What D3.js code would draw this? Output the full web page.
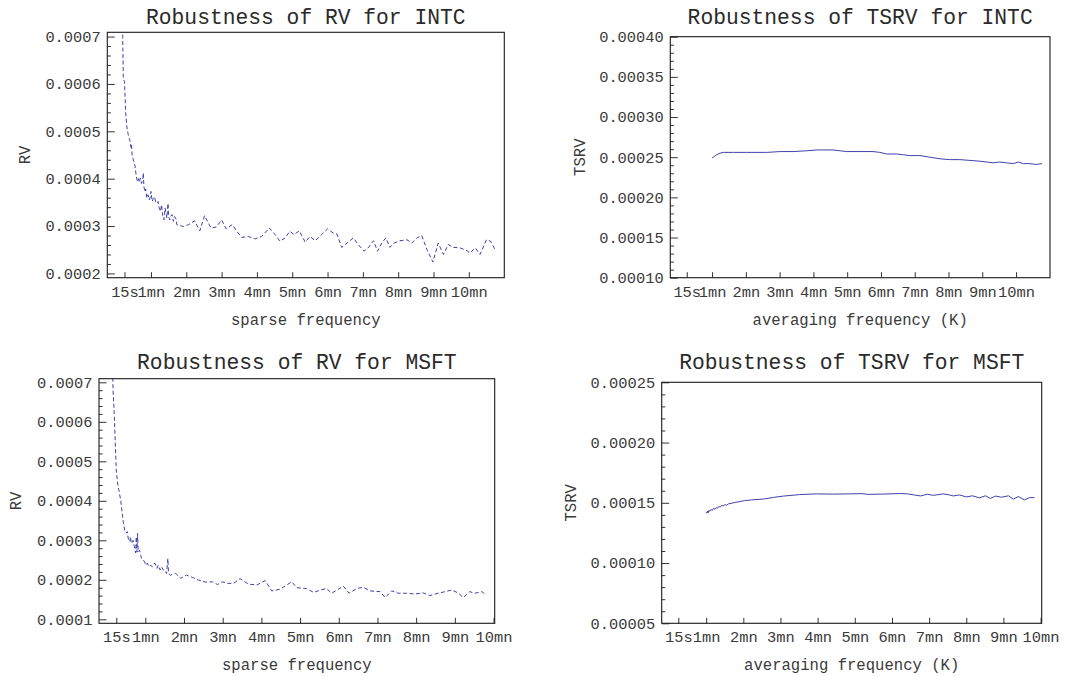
<!DOCTYPE html>
<html>
<head>
<meta charset="utf-8">
<script src="https://cdn.jsdelivr.net/npm/d3@7"></script>
<style>
  html, body { margin: 0; padding: 0; background: #fff; }
  svg { display: block; }
  text { font-family: "Liberation Mono", "Courier New", monospace; }
</style>
</head>
<body>
<svg id="chart" width="1076" height="677"></svg>
<script>
// ---------------- DATA ----------------
// x values in seconds
const xTickSec = [15, 60, 120, 180, 240, 300, 360, 420, 480, 540, 600];
const xTickLabels = ["15s", "1mn", "2mn", "3mn", "4mn", "5mn", "6mn", "7mn", "8mn", "9mn", "10mn"];

const rvTicks = [0.0002, 0.0003, 0.0004, 0.0005, 0.0006, 0.0007];
const rvTicksMsft = [0.0001, 0.0002, 0.0003, 0.0004, 0.0005, 0.0006, 0.0007];
const tsrvTicksIntc = [0.0001, 0.00015, 0.0002, 0.00025, 0.0003, 0.00035, 0.0004];
const tsrvTicksMsft = [0.00005, 0.0001, 0.00015, 0.0002, 0.00025];

// RV for INTC (sparse frequency)
const intcRvSec = [3, 7, 10, 12, 13, 15, 17, 19, 21, 23, 24, 26, 27, 28, 30, 32, 33, 35, 37, 39, 40, 42, 44, 46, 47, 48, 50, 51, 53, 55, 57, 59, 60, 62, 64, 66, 68, 70, 72, 74, 76, 78, 80, 82, 84, 86, 87, 89, 90, 92, 94, 96, 98, 100, 102, 104,
  115, 124, 134, 143, 151, 162, 171, 180, 188, 198, 206, 214, 225, 237, 248, 261, 271, 279, 288, 296, 303, 312, 322, 330, 339, 350, 360, 370, 376, 384, 393, 404, 412, 422, 429, 438, 445, 452, 459, 466, 473, 483, 495, 503, 512, 520, 529, 539, 548, 557, 565, 574, 585, 597, 602, 611, 619, 630, 637, 646];
const intcRvVal = [0.00150, 0.00098, 0.00080, 0.00070, 0.00061, 0.000605, 0.00054, 0.00051, 0.000495, 0.000485, 0.000482, 0.000466, 0.000472, 0.000448, 0.000440, 0.000432, 0.000426, 0.000405, 0.000394, 0.000400, 0.000392, 0.000401, 0.000390, 0.000398, 0.000412, 0.000383, 0.000372, 0.000378, 0.000359, 0.000366, 0.000355, 0.000362, 0.000373, 0.000352, 0.000358, 0.000362, 0.000351, 0.000348, 0.000352, 0.000338, 0.000331, 0.000345, 0.000322, 0.000313, 0.000338, 0.000324, 0.000317, 0.000348, 0.000320, 0.000313, 0.000322, 0.000324, 0.000310, 0.000320, 0.000317, 0.000303,
  0.000299, 0.000303, 0.000311, 0.000290, 0.000322, 0.000296, 0.000298, 0.000313, 0.000294, 0.000303, 0.000289, 0.000276, 0.000278, 0.000273, 0.000278, 0.000296, 0.000282, 0.000268, 0.000275, 0.000289, 0.000282, 0.000290, 0.000266, 0.000278, 0.000269, 0.000282, 0.000294, 0.000285, 0.000283, 0.000255, 0.000264, 0.000275, 0.000261, 0.000247, 0.000254, 0.000269, 0.000247, 0.000264, 0.000275, 0.000255, 0.000264, 0.000269, 0.000271, 0.000264, 0.000275, 0.000280, 0.000250, 0.000224, 0.000264, 0.000240, 0.000261, 0.000255, 0.000254, 0.000248, 0.000243, 0.000254, 0.000240, 0.000271, 0.000268, 0.000247];

// TSRV for INTC (averaging frequency K)
const intcTsrvSec = [60, 64, 68, 74, 80, 98, 121, 157, 181, 204, 228, 246, 275, 299, 323, 346, 358, 370, 388, 400, 411, 429, 447, 465, 482, 500, 518, 536, 548, 559, 571, 583, 595, 604, 613, 624, 636, 646];
const intcTsrvVal = [0.000249, 0.000251, 0.000253, 0.000255, 0.000256, 0.000256, 0.000256, 0.000256, 0.000257, 0.000257, 0.000258, 0.000259, 0.000259, 0.000257, 0.000257, 0.000257, 0.000256, 0.000254, 0.000254, 0.000253, 0.000252, 0.000252, 0.000250, 0.000248, 0.000247, 0.000247, 0.000246, 0.000245, 0.000244, 0.000243, 0.000244, 0.000243, 0.000242, 0.000244, 0.000242, 0.000242, 0.000241, 0.000242];

// RV for MSFT (sparse frequency)
const msftRvSec = [3, 7, 10, 12, 14, 15, 17, 19, 22, 24, 26, 28, 30, 32, 34, 36, 37, 38, 40, 41, 43, 45, 46, 47, 48, 49, 51, 53, 54, 57, 59, 61, 63, 66, 68, 71, 73, 75, 78, 80, 83, 85, 88, 90, 93, 95, 96, 99,
  107, 115, 124, 133, 143, 154, 164, 172, 179, 187, 197, 207, 220, 233, 246, 256, 269, 287, 295, 310, 321, 331, 341, 349, 357, 367, 376, 388, 398, 408, 424, 432, 442, 452, 465, 478, 491, 501, 514, 525, 535, 545, 553, 563, 571, 582, 589];
const msftRvVal = [0.00160, 0.00095, 0.00068, 0.000613, 0.000520, 0.000478, 0.000445, 0.000427, 0.000400, 0.000370, 0.000345, 0.000326, 0.000318, 0.000322, 0.000300, 0.000297, 0.000309, 0.000296, 0.000292, 0.000300, 0.000284, 0.000268, 0.000309, 0.000270, 0.000318, 0.000271, 0.000275, 0.000262, 0.000254, 0.000250, 0.000245, 0.000237, 0.000242, 0.000233, 0.000237, 0.000233, 0.000240, 0.000242, 0.000229, 0.000237, 0.000225, 0.000233, 0.000225, 0.000225, 0.000216, 0.000254, 0.000216, 0.000212,
  0.000216, 0.000204, 0.000212, 0.000206, 0.000199, 0.000194, 0.000195, 0.000188, 0.000195, 0.000191, 0.000191, 0.000203, 0.000189, 0.000187, 0.000198, 0.000172, 0.000176, 0.000195, 0.000180, 0.000178, 0.000168, 0.000174, 0.000178, 0.000166, 0.000174, 0.000184, 0.000166, 0.000178, 0.000181, 0.000172, 0.000170, 0.000155, 0.000172, 0.000166, 0.000166, 0.000164, 0.000167, 0.000160, 0.000166, 0.000170, 0.000174, 0.000167, 0.000155, 0.000170, 0.000166, 0.000170, 0.000161];

// TSRV for MSFT (averaging frequency K)
const msftTsrvSec = [60, 62, 63, 64, 66, 68, 70, 72, 74, 76, 78, 80, 83, 85, 88, 90, 93, 96, 106, 122, 133, 154, 169, 185, 211, 238, 264, 290, 311, 322, 343, 374, 385, 396, 406, 417, 427, 443, 453, 459, 469, 480, 490, 501, 511, 519, 527, 537, 548, 556, 564, 574, 582, 590];
const msftTsrvVal = [0.0001413, 0.000143, 0.0001415, 0.0001435, 0.000143, 0.0001445, 0.0001438, 0.0001455, 0.0001446, 0.000146, 0.0001455, 0.0001468, 0.0001465, 0.0001478, 0.0001474, 0.0001485, 0.000148, 0.0001491, 0.0001502, 0.0001518, 0.0001524, 0.0001532, 0.0001545, 0.0001556, 0.0001568, 0.0001574, 0.0001572, 0.0001574, 0.0001576, 0.000157, 0.0001572, 0.0001577, 0.0001574, 0.0001565, 0.0001557, 0.0001571, 0.0001562, 0.0001574, 0.0001565, 0.0001557, 0.0001565, 0.0001549, 0.0001558, 0.0001541, 0.0001558, 0.0001536, 0.0001556, 0.0001546, 0.0001558, 0.000153, 0.0001552, 0.0001524, 0.0001543, 0.0001543];

// ---------------- LAYOUT ----------------
const LINE_COLOR = "#4040ac";
const TEXT_COLOR = "#3a3a3a";

const panels = [
  { id: "p1", title: "Robustness of RV for INTC", xlab: "sparse frequency", ylab: "RV",
    sec: intcRvSec, val: intcRvVal, dashed: true,
    left: 107.3, right: 504.3, top: 32.3, bottom: 277.7,
    xdom: [-14.2, 660.3], ydom: [0.000191, 0.000709],
    yticks: rvTicks, yfmt: d3.format(".4f"), ystepMinor: 0.00002,
    titleY: 23.5, xlabY: 325, ylabX: 30 },
  { id: "p2", title: "Robustness of TSRV for INTC", xlab: "averaging frequency (K)", ylab: "TSRV",
    sec: intcTsrvSec, val: intcTsrvVal, dashed: false,
    left: 670.3, right: 1050, top: 36.7, bottom: 277.7,
    xdom: [-14.2, 660.3], ydom: [0.0001, 0.0004],
    yticks: tsrvTicksIntc, yfmt: d3.format(".5f"), ystepMinor: 0.00001,
    titleY: 23.5, xlabY: 325, ylabX: 585 },
  { id: "p3", title: "Robustness of RV for MSFT", xlab: "sparse frequency", ylab: "RV",
    sec: msftRvSec, val: msftRvVal, dashed: true,
    left: 99, right: 494.7, top: 378.7, bottom: 623.3,
    xdom: [-11.8, 601.8], ydom: [0.0000899, 0.0007091],
    yticks: rvTicksMsft, yfmt: d3.format(".4f"), ystepMinor: 0.00002,
    titleY: 368.5, xlabY: 670, ylabX: 21 },
  { id: "p4", title: "Robustness of TSRV for MSFT", xlab: "averaging frequency (K)", ylab: "TSRV",
    sec: msftTsrvSec, val: msftTsrvVal, dashed: false,
    left: 661.7, right: 1041.7, top: 382.3, bottom: 623.3,
    xdom: [-11.8, 601.8], ydom: [0.00005, 0.00025],
    yticks: tsrvTicksMsft, yfmt: d3.format(".5f"), ystepMinor: 0.00001,
    titleY: 368.5, xlabY: 670, ylabX: 576 }
];

const svg = d3.select("#chart");
const defs = svg.append("defs");

panels.forEach(p => {
  const x = d3.scaleLinear().domain(p.xdom).range([p.left, p.right]);
  const y = d3.scaleLinear().domain(p.ydom).range([p.bottom, p.top]);
  const g = svg.append("g");

  // minor y ticks
  const minor = [];
  const nMinor = Math.round((p.ydom[1] - p.ydom[0]) / p.ystepMinor) + 4;
  const startIdx = Math.ceil(p.ydom[0] / p.ystepMinor - 1e-6);
  for (let i = startIdx; i < startIdx + nMinor; i++) {
    const v = i * p.ystepMinor;
    if (v < p.ydom[0] - 1e-12 || v > p.ydom[1] + 1e-12) continue;
    const isMajor = p.yticks.some(t => Math.abs(t - v) < p.ystepMinor * 0.1);
    if (!isMajor) minor.push(v);
  }
  g.append("g")
    .attr("transform", `translate(${p.left},0)`)
    .call(d3.axisLeft(y).tickValues(minor).tickSize(-3.6).tickFormat(""))
    .call(a => a.select(".domain").remove())
    .call(a => a.selectAll("line").attr("stroke", "#333"));

  // major y ticks
  g.append("g")
    .attr("transform", `translate(${p.left},0)`)
    .call(d3.axisLeft(y).tickValues(p.yticks).tickSize(-7.5).tickPadding(6.5).tickFormat(p.yfmt))
    .call(a => a.select(".domain").remove())
    .call(a => a.selectAll("line").attr("stroke", "#333"))
    .call(a => a.selectAll("text")
      .attr("fill", TEXT_COLOR)
      .style("font-family", '"Liberation Mono", "Courier New", monospace')
      .style("font-size", "15.4px"));

  // x ticks
  g.append("g")
    .attr("transform", `translate(0,${p.bottom})`)
    .call(d3.axisBottom(x).tickValues(xTickSec).tickSize(-5.5).tickPadding(8)
      .tickFormat((d, i) => xTickLabels[i]))
    .call(a => a.select(".domain").remove())
    .call(a => a.selectAll("line").attr("stroke", "#333"))
    .call(a => a.selectAll("text")
      .attr("fill", TEXT_COLOR)
      .style("font-family", '"Liberation Mono", "Courier New", monospace')
      .style("font-size", "15.4px"));

  // clip
  defs.append("clipPath").attr("id", "clip-" + p.id)
    .append("rect")
    .attr("x", p.left).attr("y", p.top)
    .attr("width", p.right - p.left).attr("height", p.bottom - p.top);

  const pts = p.sec.map((s, i) => [s, p.val[i]]);
  const line = d3.line().x(d => x(d[0])).y(d => y(d[1]));
  g.append("path")
    .datum(pts)
    .attr("clip-path", `url(#clip-${p.id})`)
    .attr("fill", "none")
    .attr("stroke", LINE_COLOR)
    .attr("stroke-width", 1)
    .attr("stroke-dasharray", p.dashed ? "4,2.5" : null)
    .attr("d", line);

  // frame
  g.append("rect")
    .attr("x", p.left).attr("y", p.top)
    .attr("width", p.right - p.left).attr("height", p.bottom - p.top)
    .attr("fill", "none").attr("stroke", "#1a1a1a").attr("stroke-width", 1.1);

  const cx = (p.left + p.right) / 2;
  const cy = (p.top + p.bottom) / 2;

  // title
  g.append("text")
    .attr("x", cx).attr("y", p.titleY)
    .attr("text-anchor", "middle")
    .attr("fill", "#2a2a2a")
    .style("font-size", "21.3px")
    .text(p.title);

  // x label
  g.append("text")
    .attr("x", cx).attr("y", p.xlabY)
    .attr("text-anchor", "middle")
    .attr("fill", TEXT_COLOR)
    .style("font-size", "15.6px")
    .text(p.xlab);

  // y label
  g.append("text")
    .attr("transform", `translate(${p.ylabX},${cy}) rotate(-90)`)
    .attr("text-anchor", "middle")
    .attr("fill", TEXT_COLOR)
    .style("font-size", "15.6px")
    .text(p.ylab);
});
</script>
</body>
</html>
